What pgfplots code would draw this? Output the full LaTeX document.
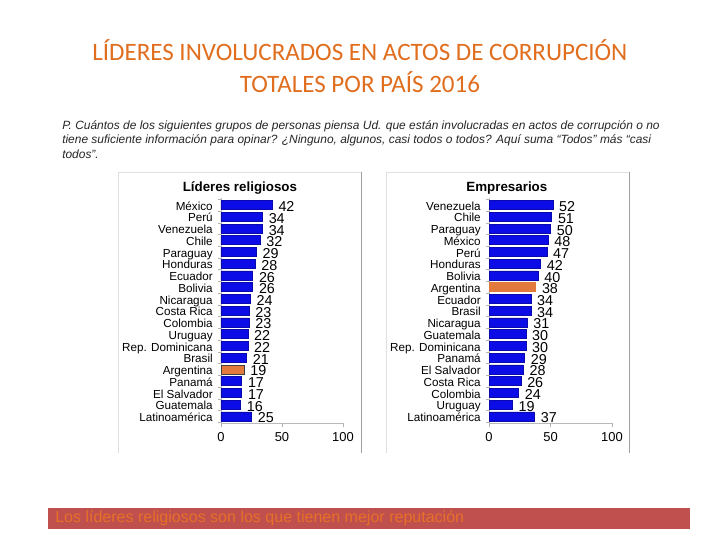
\documentclass[border=0pt]{standalone}
\usepackage{pgfplots}
\pgfplotsset{compat=1.18}
\usepackage{fontspec}
\setmainfont{Liberation Sans}
\newfontfamily\titlefont{Carlito}
\definecolor{barblue}{RGB}{12,12,230}
\definecolor{barorange}{RGB}{226,122,62}
\definecolor{titleorange}{RGB}{224,110,30}
\definecolor{bandred}{RGB}{192,80,77}
\definecolor{bandtext}{RGB}{230,112,40}
\pgfplotsset{
  panel/.style={
    scale only axis, width=3.05cm, height=5.635cm,
    xbar, bar width=0.225cm,
    xmin=0, xmax=100, ymin=-0.6, ymax=18.6, y dir=reverse,
    enlargelimits=false,
    axis lines*=left,
    axis line style={gray!55},
    xtick={0,50,100},
    ytick={0,...,18},
    minor ytick={-0.5,0.5,...,18.5},
    tick align=outside,
    major tick length=0.1cm,
    minor tick length=0.075cm,
    tick style={gray!60},
    every major y tick/.style={draw=none},
    /pgf/number format/assume math mode=true,
    xticklabel style={font=\fontsize{9.2}{11}\selectfont},
    yticklabel style={font=\fontsize{8.3}{10}\selectfont, anchor=east, inner sep=0pt, text height=1.5ex, text depth=0.1ex, xshift=-0.1cm},
    nodes near coords,
    nodes near coords style={font=\fontsize{10.2}{12}\selectfont, anchor=west, inner sep=0pt, xshift=0.15cm, yshift=-0.04cm, black},
  }
}
\begin{document}
\begin{tikzpicture}
\begin{scope}[x=0.025cm,y=-0.025cm]
\fill[white] (0,0) rectangle (720,540);
\node[titleorange, font=\titlefont\fontsize{17.8}{20}\selectfont] at (360,50.5) {LÍDERES INVOLUCRADOS EN ACTOS DE CORRUPCIÓN};
\node[titleorange, font=\titlefont\fontsize{17.8}{20}\selectfont] at (360,82) {TOTALES POR PAÍS 2016};
\node[anchor=west, inner sep=0pt, font=\itshape\fontsize{8.5}{10}\selectfont, black!85] at (62,126) {P. Cuántos de los siguientes grupos de personas piensa Ud. que están involucradas en actos de corrupción o no};
\node[anchor=west, inner sep=0pt, font=\itshape\fontsize{8.5}{10}\selectfont, black!85] at (62,140) {tiene suficiente información para opinar? ¿Ninguno, algunos, casi todos o todos? Aquí suma “Todos” más “casi};
\node[anchor=west, inner sep=0pt, font=\itshape\fontsize{8.5}{10}\selectfont, black!85] at (62,154) {todos”.};
% panels
\draw[gray!25] (118,453) -- (118,172) -- (361,172);
\draw[gray!75] (361,172) -- (361,453);
\draw[gray!25] (386,453) -- (386,172) -- (629,172);
\draw[gray!75] (629,172) -- (629,453);
\node[font=\bfseries\fontsize{9.5}{11}\selectfont] at (240,188) {Líderes religiosos};
\node[font=\bfseries\fontsize{9.5}{11}\selectfont] at (507,188) {Empresarios};
% band
\fill[bandred] (48,508) rectangle (690,529);
\node[anchor=west, inner sep=0pt, bandtext, font=\fontsize{11.4}{13}\selectfont] at (55,518.5) {Los líderes religiosos son los que tienen mejor reputación};
\end{scope}

\begin{axis}[panel, at={(5.525cm,-4.95cm)}, anchor=north west,
  yticklabels={México,Perú,Venezuela,Chile,Paraguay,Honduras,Ecuador,Bolivia,Nicaragua,Costa Rica,Colombia,Uruguay,Rep. Dominicana,Brasil,Argentina,Panamá,El Salvador,Guatemala,Latinoamérica}]
\addplot[bar shift=0pt, fill=barblue, draw=barblue!75!black] coordinates {
(42,0) (34,1) (34,2) (32,3) (29,4) (28,5) (26,6) (26,7) (24,8) (23,9) (23,10) (22,11) (22,12) (21,13) (17,15) (17,16) (16,17) (25,18)};
\addplot[bar shift=0pt, fill=barorange, draw=black!75] coordinates {(19,14)};
\end{axis}

\begin{axis}[panel, at={(12.225cm,-4.95cm)}, anchor=north west, width=3.075cm,
  yticklabels={Venezuela,Chile,Paraguay,México,Perú,Honduras,Bolivia,Argentina,Ecuador,Brasil,Nicaragua,Guatemala,Rep. Dominicana,Panamá,El Salvador,Costa Rica,Colombia,Uruguay,Latinoamérica}]
\addplot[bar shift=0pt, fill=barblue, draw=barblue!75!black] coordinates {
(52,0) (51,1) (50,2) (48,3) (47,4) (42,5) (40,6) (34,8) (34,9) (31,10) (30,11) (30,12) (29,13) (28,14) (26,15) (24,16) (19,17) (37,18)};
\addplot[bar shift=0pt, fill=barorange, draw=barorange] coordinates {(38,7)};
\end{axis}

\pgfresetboundingbox
\path[use as bounding box] (0,0) rectangle (18,-13.5);
\end{tikzpicture}
\end{document}
